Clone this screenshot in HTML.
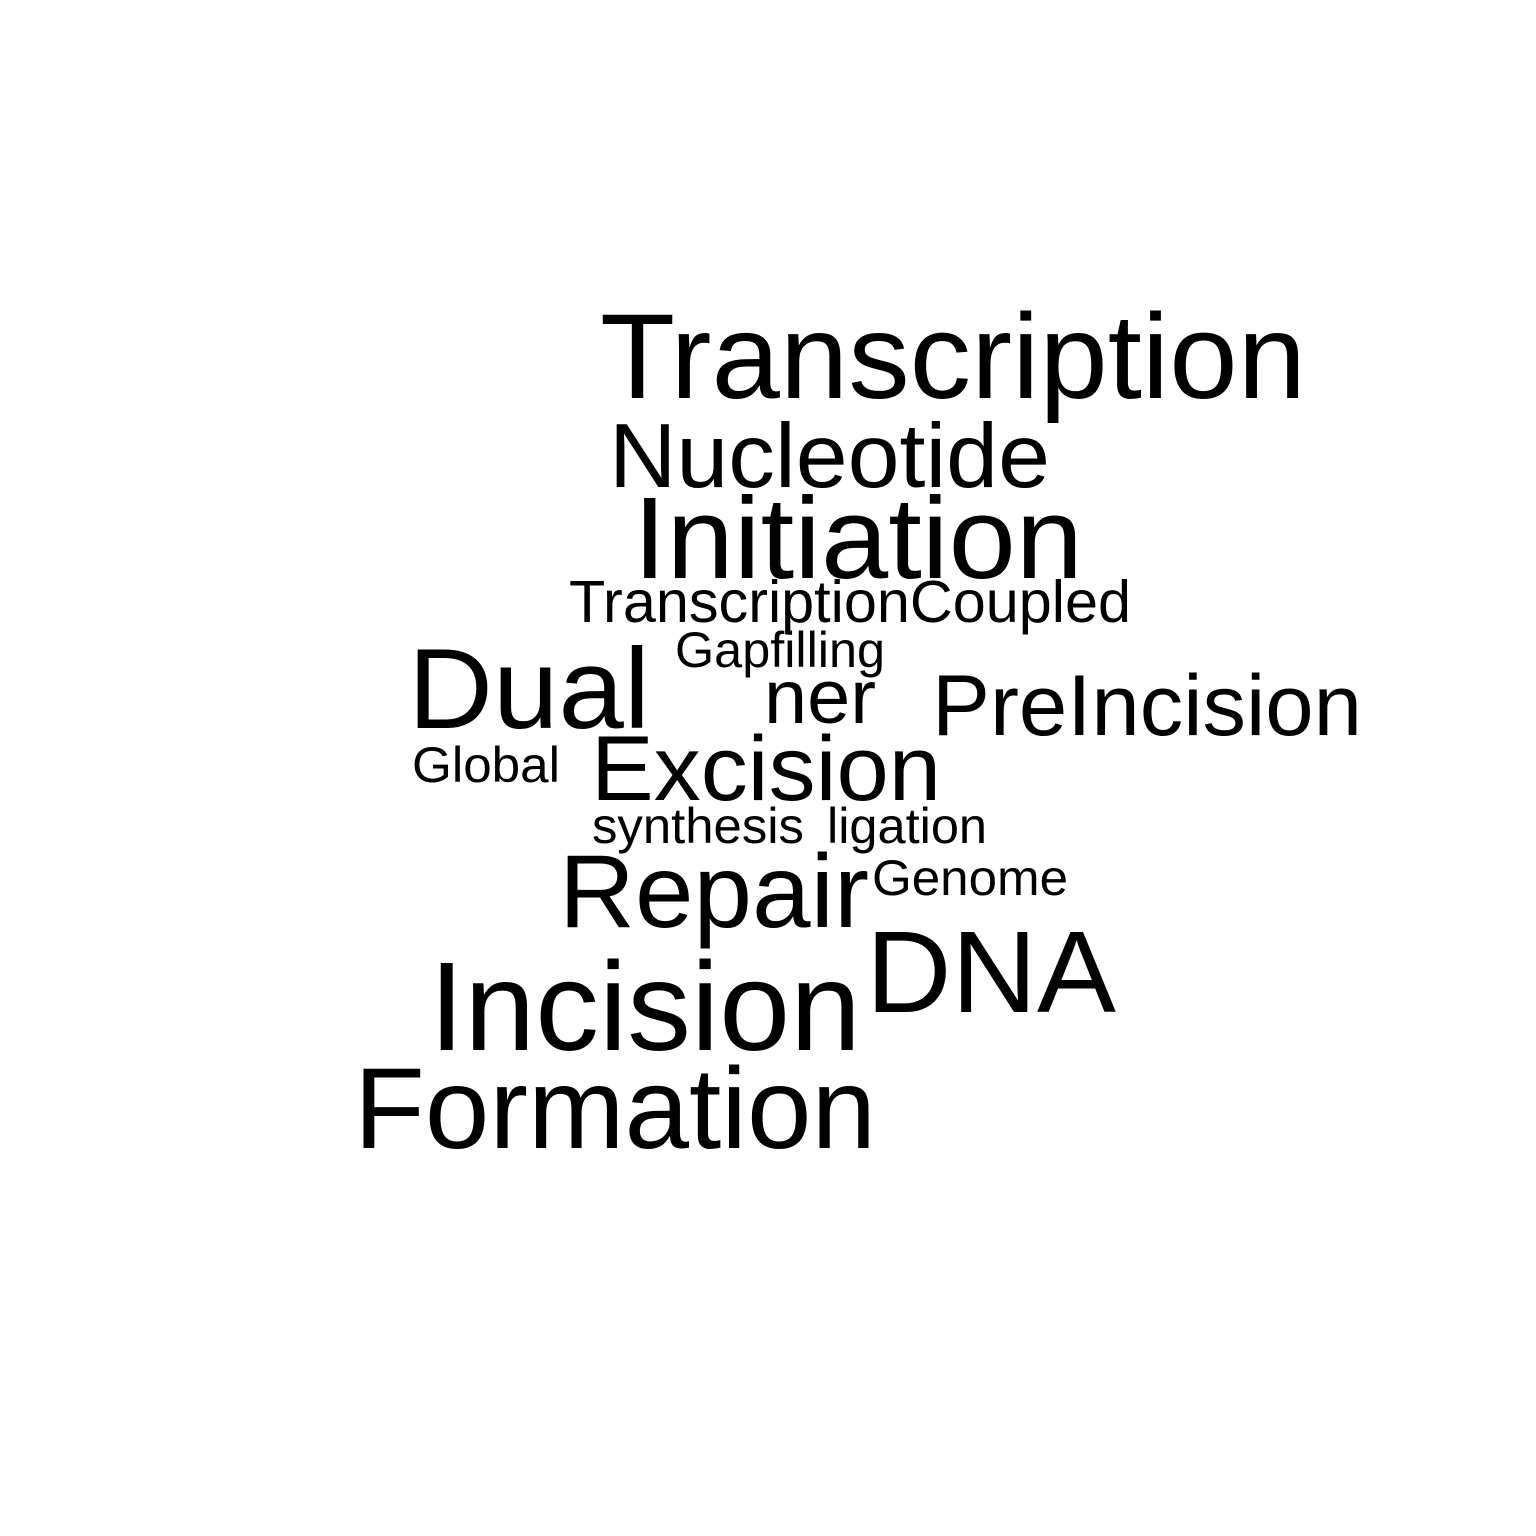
<!DOCTYPE html>
<html><head><meta charset="utf-8"><style>
html,body{margin:0;padding:0;background:#fff;width:1536px;height:1536px;overflow:hidden}
svg text{font-family:"Liberation Sans",Arial,sans-serif;fill:#000}
</style></head><body>
<svg width="1536" height="1536" viewBox="0 0 1536 1536">
<rect width="1536" height="1536" fill="#fff"/>
<g id="words"></g>
</svg>
<script>
const words = ["Transcription","Nucleotide","Initiation","TranscriptionCoupled","Gapfilling","Dual","ner","PreIncision","Global","Excision","synthesis","ligation","Repair","Genome","DNA","Incision","Formation"];
const sizes = [121,91,116,59,50,114,76,86,50,92,50,50,104,50,116,126,115];
const xs = [600,609,633,569,675,408,764,932,412,591,592,827,559,872,866,429,354];
const ys = [398,487,578,622,667,728,723,735,782,800,843,843,927,895,1012,1050,1148];
const widths = [706,441,450,562,210,242,112,430,148,350,212,160,310,196,250,432,522];
const g = document.getElementById('words');
words.forEach((w,i)=>{
  const t = document.createElementNS('http://www.w3.org/2000/svg','text');
  t.setAttribute('x', xs[i]);
  t.setAttribute('y', ys[i]);
  t.setAttribute('font-size', sizes[i]);
  t.setAttribute('textLength', widths[i]);
  t.setAttribute('lengthAdjust', 'spacingAndGlyphs');
  t.textContent = w;
  
  
  g.appendChild(t);
});
</script>
</body></html>
